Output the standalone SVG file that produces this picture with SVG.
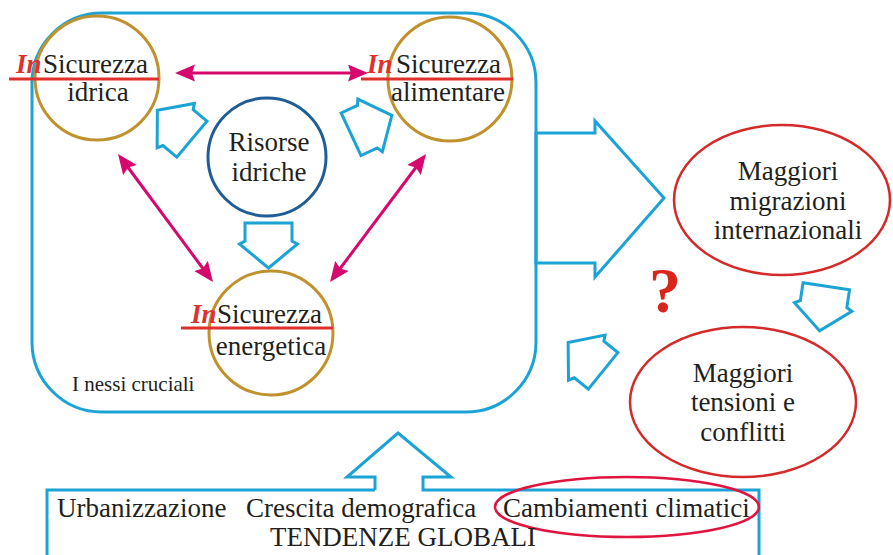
<svg xmlns="http://www.w3.org/2000/svg" xmlns:xlink="http://www.w3.org/1999/xlink" width="893" height="555" viewBox="0 0 893 555">
<style>
  .t { font-family: "Liberation Serif", "Times New Roman", serif; font-size: 27px; fill: #231f20; }
  .m { text-anchor: middle; }
  .in { font-family: "Liberation Serif", "Times New Roman", serif; font-size: 27px; font-weight: bold; font-style: italic; fill: #e0302c; }
  .gold { fill: none; stroke: #c0922e; stroke-width: 3; }
  .cyan { fill: none; stroke: #1aa3d4; stroke-width: 3; stroke-linejoin: miter; }
  .redl { stroke: #e0302c; stroke-width: 3; }
  .pink { stroke: #d6086e; stroke-width: 3; fill: none; marker-start: url(#ph); marker-end: url(#ph); }
  .oval { fill: none; stroke: #d42a2a; stroke-width: 2.5; }
</style>
<defs>
  <marker id="ph" markerUnits="userSpaceOnUse" markerWidth="22" markerHeight="18" refX="10" refY="8.5" orient="auto-start-reverse" viewBox="0 0 22 18">
    <path d="M0,0 L20,8.5 L0,17 L3,8.5 z" fill="#d6086e"/>
  </marker>
  <polygon id="barr" points="-22,-23.5 -4,-23.5 -1,-29 23,0 -1,29 -4,23.5 -22,23.5" fill="#fff" stroke="#1aa3d4" stroke-width="3"/>
</defs>
<rect width="893" height="555" fill="#fff"/>

<g id="nessi-box">
  <rect x="32" y="13" width="504" height="399" rx="70" ry="70" class="cyan"/>
  <text class="t" x="72" y="391" style="font-size:21px">I nessi cruciali</text>
</g>

<g id="big-arrow-right">
  <polygon points="536,133 595,133 595,121 664,198 595,277 595,263 536,263" class="cyan" fill="#fff"/>
</g>

<g id="idrica">
  <circle cx="97" cy="78" r="62" class="gold" fill="#fff"/>
  <line x1="9" y1="79" x2="159" y2="79" class="redl"/>
  <text class="in" x="16" y="73">In</text>
  <text class="t" x="43" y="73">Sicurezza</text>
  <text class="t m" x="98" y="101">idrica</text>
</g>

<g id="alimentare">
  <circle cx="450" cy="79" r="62" class="gold" fill="#fff"/>
  <line x1="361" y1="79" x2="513" y2="79" class="redl"/>
  <text class="in" x="367" y="73">In</text>
  <text class="t" x="396" y="73">Sicurezza</text>
  <text class="t m" x="448" y="101">alimentare</text>
</g>

<g id="risorse">
  <circle cx="267" cy="157" r="59" fill="#fff" stroke="#1f5d97" stroke-width="3"/>
  <text class="t m" x="269" y="151">Risorse</text>
  <text class="t m" x="269" y="181">idriche</text>
</g>

<g id="energetica">
  <circle cx="271" cy="333" r="62" class="gold" fill="#fff"/>
  <line x1="181" y1="328" x2="333" y2="328" class="redl"/>
  <text class="in" x="191" y="323">In</text>
  <text class="t" x="217" y="323">Sicurezza</text>
  <text class="t m" x="271" y="355">energetica</text>
</g>

<g id="migrazioni">
  <ellipse cx="782" cy="200" rx="108" ry="75" class="oval"/>
  <text class="t m" x="788" y="180">Maggiori</text>
  <text class="t m" x="788" y="210">migrazioni</text>
  <text class="t m" x="788" y="239">internazionali</text>
</g>

<g id="tensioni">
  <ellipse cx="743" cy="402" rx="113" ry="75" class="oval"/>
  <text class="t m" x="743" y="382">Maggiori</text>
  <text class="t m" x="743" y="411">tensioni e</text>
  <text class="t m" x="743" y="441">conflitti</text>
</g>

<g id="question">
  <text x="665" y="312" text-anchor="middle" style="font-family:'Liberation Serif','Times New Roman',serif;font-size:64px;font-weight:bold;fill:#d9261c">?</text>
</g>

<g id="tendenze">
  <path d="M375,490 V477 H347 L398,433 L451,477 H423 V490 H759 V560 M375,490 H47 V560" class="cyan"/>
  <ellipse cx="627" cy="507" rx="132" ry="30" fill="none" stroke="#e0153f" stroke-width="2.5"/>
  <text class="t" x="57" y="517">Urbanizzazione</text>
  <text class="t" x="246" y="517">Crescita demografica</text>
  <text class="t" x="503" y="517">Cambiamenti climatici</text>
  <text class="t m" x="403" y="546">TENDENZE GLOBALI</text>
</g>

<g id="connectors">
  <line x1="185" y1="73" x2="358" y2="73" class="pink"/>
  <line x1="124" y1="162" x2="207" y2="274" class="pink"/>
  <line x1="420" y1="162" x2="336" y2="274" class="pink"/>
  <use xlink:href="#barr" transform="translate(175,125) rotate(-140)"/>
  <use xlink:href="#barr" transform="translate(371,125) rotate(-25)"/>
  <use xlink:href="#barr" transform="translate(268.5,245) rotate(90)"/>
  <use xlink:href="#barr" transform="translate(823,308) rotate(98.6)"/>
  <use xlink:href="#barr" transform="translate(586,357) rotate(-141)"/>
</g>
</svg>
